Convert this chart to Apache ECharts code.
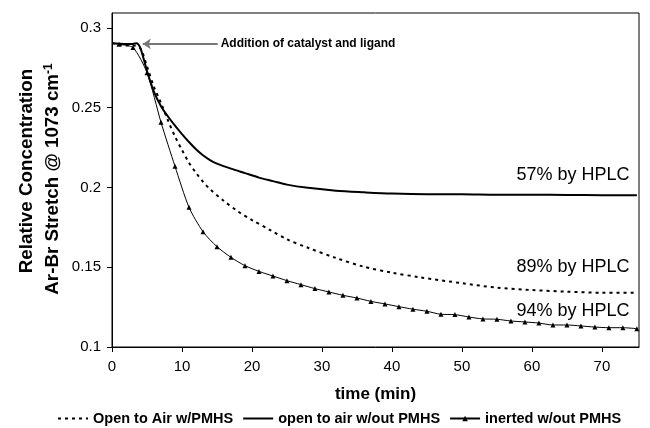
<!DOCTYPE html>
<html>
<head>
<meta charset="utf-8">
<script src="https://cdn.jsdelivr.net/npm/echarts@6/dist/echarts.min.js"></script>
<style>
  html, body { margin: 0; padding: 0; background: #fff; }
  #chart { width: 650px; height: 428px; }
</style>
</head>
<body>
<div id="chart"></div>
<script>
// time axis (min) and the three concentration curves
const xTicks = [0, 10, 20, 30, 40, 50, 60, 70];
const yTicks = [0.1, 0.15, 0.2, 0.25, 0.3];

// open to air w/out PMHS (solid)
const solidT = [0, 1, 2, 3, 3.5, 4, 4.5, 5, 6, 7, 8, 9, 10, 11, 12, 13, 14, 15, 17, 19, 21, 23, 25, 28, 32, 36, 40, 45, 50, 55, 60, 65, 70, 75];
const solidV = [0.2905, 0.2902, 0.29, 0.29, 0.2905, 0.288, 0.281, 0.273, 0.26, 0.251, 0.2445, 0.2388, 0.2335, 0.2285, 0.224, 0.2202, 0.2172, 0.215, 0.2118, 0.209, 0.2062, 0.204, 0.2018, 0.1998, 0.198, 0.197, 0.1962, 0.1958, 0.1958, 0.1955, 0.1955, 0.1953, 0.1952, 0.1952];

// Open to Air w/PMHS (dashed)
const dashT = [0, 1, 2, 3, 4, 5, 6, 7, 8, 9, 10, 11, 12, 13, 14, 16, 18, 20, 22.6, 25, 28, 32, 36, 40, 44, 50, 55, 60, 65, 70, 75];
const dashV = [0.2905, 0.2895, 0.289, 0.289, 0.2875, 0.276, 0.263, 0.253, 0.242, 0.232, 0.2235, 0.2155, 0.2092, 0.2036, 0.199, 0.1915, 0.185, 0.1796, 0.1733, 0.1675, 0.1622, 0.1558, 0.1503, 0.1466, 0.1437, 0.140, 0.1372, 0.1357, 0.1347, 0.134, 0.134];

// inerted w/out PMHS (triangles)
const triT = [0, 1, 3, 5, 7, 9, 11, 13, 15, 17, 19, 21, 23, 25, 27, 29, 31, 33, 35, 37, 39, 41, 43, 45, 47, 49, 51, 53, 55, 57, 59, 61, 63, 65, 67, 69, 71, 73, 75];
const triV = [0.2905, 0.2898, 0.2877, 0.272, 0.2409, 0.2133, 0.1876, 0.1723, 0.1629, 0.1562, 0.151, 0.1474, 0.1445, 0.1416, 0.1391, 0.1366, 0.1345, 0.1324, 0.1307, 0.1286, 0.127, 0.1253, 0.1237, 0.1224, 0.1205, 0.1203, 0.1188, 0.1176, 0.1174, 0.1163, 0.1157, 0.115, 0.1138, 0.1138, 0.1132, 0.1125, 0.1121, 0.1121, 0.1115];

const seriesNames = ['Open to Air w/PMHS', 'open to air w/out PMHS', 'inerted w/out PMHS'];
const legendMarker = [false, false, true];
const endLabels = ['89% by HPLC', '57% by HPLC', '94% by HPLC'];
const endLabelY = [0.1503, 0.2078, 0.1226];

const FONT = '"Liberation Sans", Arial, sans-serif';

const pairs = (t, v) => t.map((x, i) => [x, v[i]]);

function hplcLabel(i) {
  return {
    symbol: 'circle', symbolSize: 1,
    silent: true,
    itemStyle: { color: 'rgba(0,0,0,0)' },
    data: [{ coord: [75.3, endLabelY[i]] }],
    label: {
      show: true, position: 'left', distance: 9,
      formatter: endLabels[i], color: '#000',
      fontFamily: FONT, fontSize: 18
    }
  };
}

const chart = echarts.init(document.getElementById('chart'));

chart.setOption({
  animation: false,
  textStyle: { fontFamily: FONT },
  grid: { left: 112, right: 11, top: 13, bottom: 81, show: true, borderColor: '#000', borderWidth: 1 },
  xAxis: {
    type: 'value', min: 0, max: 75.3,
    name: 'time (min)', nameLocation: 'middle', nameGap: 39,
    nameTextStyle: { fontFamily: FONT, fontSize: 17, fontWeight: 'bold', color: '#000' },
    axisLine: { onZero: false, lineStyle: { color: '#000', width: 1 } },
    axisTick: { show: true, length: 5, lineStyle: { color: '#000' }, customValues: xTicks },
    axisLabel: { color: '#000', fontSize: 15, margin: 12, customValues: xTicks },
    splitLine: { show: false }
  },
  yAxis: {
    type: 'value', min: 0.1, max: 0.3094,
    axisLine: { show: true, onZero: false, lineStyle: { color: '#000', width: 1 } },
    axisTick: { show: true, length: 5, lineStyle: { color: '#000' }, customValues: yTicks },
    axisLabel: { color: '#000', fontSize: 15, margin: 11, customValues: yTicks, formatter: v => String(+v.toFixed(2)) },
    splitLine: { show: false }
  },
  legend: {
    bottom: -3, left: 52,
    itemWidth: 30, itemHeight: 7, itemGap: 9,
    textStyle: { fontFamily: FONT, fontSize: 14.5, fontWeight: 'bold', color: '#000' },
    data: seriesNames.map((n, i) => legendMarker[i]
      ? { name: n }
      : { name: n, itemStyle: { color: 'rgba(0,0,0,0)', borderColor: 'rgba(0,0,0,0)', borderWidth: 0, opacity: 0 } })
  },
  graphic: [
    {
      type: 'text', x: 27, y: 171, rotation: Math.PI / 2,
      style: { text: 'Relative Concentration', font: 'bold 18.8px ' + FONT, fill: '#000', align: 'center', verticalAlign: 'middle' }
    },
    {
      type: 'text', x: 53, y: 179, rotation: Math.PI / 2,
      style: {
        text: 'Ar-Br Stretch @ 1073 cm{sup|-1}', font: 'bold 18.8px ' + FONT, fill: '#000', align: 'center', verticalAlign: 'middle',
        rich: { sup: { fontSize: 12, fontWeight: 'bold', fontFamily: FONT, fill: '#000', padding: [0, 0, 9, 0] } }
      }
    }
  ],
  series: [
    {
      name: seriesNames[0], type: 'line', smooth: 0.3, showSymbol: false, symbol: 'none',
      lineStyle: { color: '#000', width: 2, type: [3, 4] }, itemStyle: { color: '#000' },
      data: pairs(dashT, dashV),
      markPoint: hplcLabel(0),
      z: 3
    },
    {
      name: seriesNames[1], type: 'line', smooth: 0.3, showSymbol: false, symbol: 'none',
      lineStyle: { color: '#000', width: 2 }, itemStyle: { color: '#000' },
      data: pairs(solidT, solidV),
      markPoint: hplcLabel(1),
      markLine: {
        silent: true,
        lineStyle: { color: '#777', width: 2, type: 'solid' },
        symbol: ['none', 'arrow'], symbolSize: [8, 8],
        label: {
          show: true, position: 'start', distance: 3, color: '#000',
          fontFamily: FONT, fontSize: 12, fontWeight: 'bold',
          formatter: 'Addition of catalyst and ligand'
        },
        data: [[{ coord: [15.1, 0.29] }, { coord: [4.4, 0.29] }]]
      },
      z: 4
    },
    {
      name: seriesNames[2], type: 'line', smooth: 0.25,
      symbol: 'triangle', symbolSize: 5, showAllSymbol: true,
      lineStyle: { color: '#000', width: 1 }, itemStyle: { color: '#000' },
      data: pairs(triT, triV).map((p, i) => i === 0 ? { value: p, symbol: 'none' } : p),
      markPoint: hplcLabel(2),
      z: 2
    }
  ]
});
</script>
</body>
</html>
